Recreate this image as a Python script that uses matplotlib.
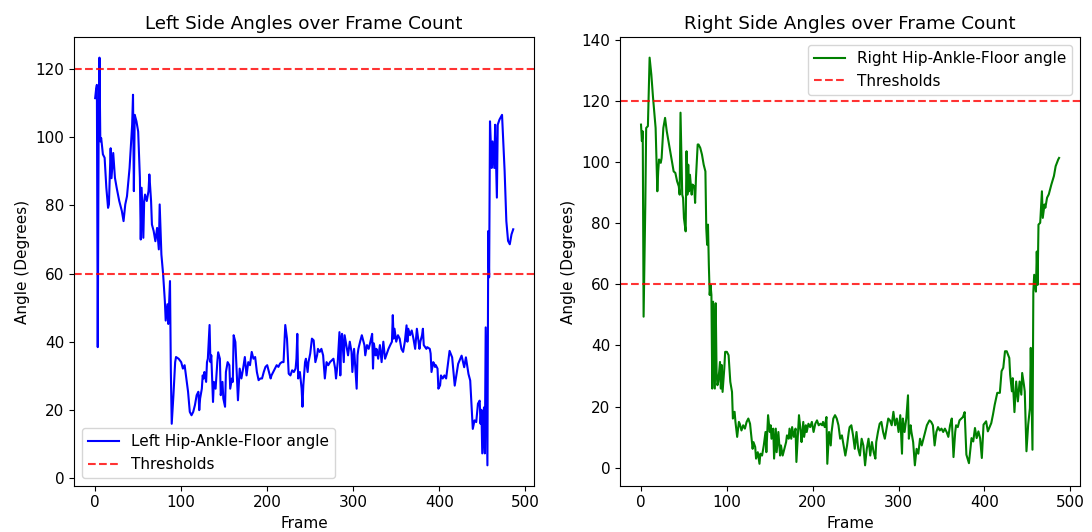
import numpy as np
from matplotlib import pyplot as plt

plt.rcParams['font.size'] = 11

# hip-ankle-floor angle per frame, left side
left_frames = [0, 1, 2, 3, 4, 5, 6, 7, 9, 11, 13, 15, 16, 18, 19, 21, 23, 25, 28, 31,
               33, 35, 37, 40, 43, 44, 45, 46, 48, 50, 52, 53, 54, 56, 57, 58, 60, 62, 63, 65,
               66, 68, 70, 72, 74, 75, 77, 79, 81, 82, 84, 85, 87, 88, 89, 91, 93, 94, 97, 100,
               102, 104, 106, 108, 110, 112, 114, 116, 118, 120, 121, 122, 124, 125, 126, 127, 129, 130, 131, 133,
               134, 135, 137, 138, 140, 142, 143, 145, 146, 148, 149, 151, 152, 154, 156, 157, 159, 160, 161, 163,
               164, 166, 168, 170, 172, 174, 176, 178, 180, 182, 184, 186, 188, 190, 192, 194, 196, 198, 200, 202,
               204, 205, 207, 209, 211, 213, 215, 217, 219, 221, 223, 225, 227, 229, 231, 233, 234, 235, 236, 238,
               240, 241, 242, 244, 245, 247, 248, 250, 252, 254, 256, 258, 259, 261, 263, 265, 267, 269, 271, 273,
               275, 277, 279, 280, 282, 284, 285, 286, 287, 289, 290, 292, 294, 296, 298, 299, 301, 302, 304, 305,
               306, 308, 310, 312, 313, 314, 316, 318, 320, 322, 323, 324, 326, 327, 329, 331, 333, 335, 337, 339,
               341, 343, 345, 346, 347, 348, 350, 352, 354, 356, 358, 360, 362, 363, 364, 366, 368, 370, 372, 374,
               376, 377, 378, 380, 381, 382, 385, 386, 389, 390, 391, 393, 394, 395, 396, 398, 399, 401, 402, 404,
               406, 408, 412, 415, 418, 422, 426, 429, 431, 434, 436, 439, 441, 443, 445, 447, 448, 449, 450, 452,
               453, 454, 456, 457, 458, 459, 461, 462, 464, 465, 467, 468, 470, 473, 476, 478, 480, 482, 484, 486]
left_angles = [111.5, 113.9, 115.4, 38.4, 99.0, 123.4, 98.8, 99.8, 95.0, 94.0, 85.2, 79.3, 80.3, 96.8, 88.0, 95.4, 88.1, 85.2, 81.3, 78.4,
               75.4, 80.3, 82.7, 91.0, 103.7, 112.5, 84.2, 106.6, 104.7, 101.7, 88.1, 70.0, 85.2, 70.5, 81.3, 83.2, 81.3, 84.2, 89.1, 81.3,
               74.4, 72.5, 69.5, 73.4, 67.1, 80.3, 65.6, 59.8, 52.0, 46.2, 51.0, 45.2, 57.8, 31.0, 15.9, 24.3, 34.0, 35.5, 35.0, 34.0,
               32.1, 33.1, 29.2, 25.3, 19.4, 18.4, 19.4, 21.4, 24.3, 25.3, 19.9, 23.3, 26.2, 30.1, 29.2, 31.1, 28.2, 34.0, 35.0, 44.9,
               34.0, 36.0, 22.3, 28.2, 26.2, 34.0, 36.9, 35.0, 24.3, 28.2, 23.3, 20.9, 31.1, 34.0, 33.1, 26.2, 29.2, 28.2, 41.9, 39.9,
               34.0, 22.8, 32.1, 29.2, 32.1, 35.5, 30.1, 34.0, 33.1, 37.0, 35.0, 35.5, 31.1, 28.7, 29.2, 29.2, 31.1, 32.6, 33.1, 31.1,
               29.2, 30.1, 31.1, 32.1, 33.1, 32.6, 33.6, 34.0, 34.0, 44.9, 40.9, 30.6, 30.1, 31.6, 31.1, 32.1, 35.0, 42.3, 29.2, 31.1,
               26.2, 20.9, 27.2, 34.0, 35.0, 31.1, 34.0, 36.5, 40.9, 40.4, 34.0, 36.0, 37.9, 37.0, 37.9, 36.0, 29.2, 34.0, 33.1, 34.0,
               34.5, 35.0, 32.1, 29.2, 34.0, 42.8, 30.1, 40.9, 42.3, 34.0, 41.9, 39.0, 36.0, 40.0, 37.0, 31.1, 37.9, 34.0, 26.2, 36.0,
               37.9, 40.0, 41.9, 40.0, 39.0, 36.0, 39.0, 37.9, 40.0, 42.3, 32.1, 39.5, 36.0, 37.9, 35.0, 39.0, 34.0, 40.0, 35.0, 36.5,
               37.9, 39.0, 40.0, 47.8, 40.9, 43.8, 40.0, 41.9, 40.9, 37.9, 37.0, 40.0, 44.8, 40.0, 43.8, 41.9, 43.3, 40.9, 37.9, 43.8,
               40.0, 37.9, 40.0, 41.9, 43.8, 39.0, 37.9, 38.4, 37.9, 36.5, 31.1, 34.0, 33.6, 32.6, 33.1, 32.1, 26.2, 27.2, 30.1, 29.2,
               30.1, 29.2, 37.3, 35.4, 27.1, 33.5, 35.9, 32.5, 35.4, 30.5, 28.6, 14.4, 16.9, 16.4, 21.8, 22.7, 15.9, 20.0, 7.2, 20.7,
               7.2, 44.2, 3.7, 72.5, 58.9, 104.7, 91.0, 98.8, 91.0, 103.7, 82.3, 103.7, 105.2, 106.6, 90.1, 75.4, 69.6, 68.6, 71.5, 73.0]

# hip-ankle-floor angle per frame, right side
right_frames = [0, 1, 2, 3, 5, 6, 8, 10, 12, 14, 16, 17, 19, 20, 21, 23, 24, 26, 28, 30,
                32, 34, 36, 38, 40, 42, 44, 45, 46, 48, 49, 50, 52, 53, 54, 55, 56, 57, 59, 60,
                62, 63, 64, 66, 67, 69, 71, 73, 75, 76, 77, 78, 79, 80, 81, 82, 83, 84, 86, 87,
                88, 89, 90, 92, 93, 94, 95, 97, 98, 100, 102, 104, 106, 107, 109, 110, 112, 114, 115, 117,
                119, 121, 123, 125, 127, 128, 130, 131, 133, 134, 136, 138, 139, 141, 143, 145, 146, 148, 150, 151,
                152, 154, 155, 157, 158, 160, 162, 163, 165, 167, 169, 170, 172, 173, 175, 176, 178, 180, 181, 183,
                184, 186, 187, 189, 190, 192, 193, 195, 197, 199, 201, 203, 205, 207, 209, 211, 212, 214, 216, 217,
                219, 221, 222, 224, 226, 228, 230, 232, 234, 236, 238, 240, 242, 243, 245, 247, 249, 251, 253, 255,
                257, 259, 261, 263, 265, 267, 269, 271, 273, 274, 276, 278, 280, 282, 284, 286, 288, 290, 292, 294,
                296, 298, 300, 302, 304, 305, 307, 309, 311, 312, 314, 315, 317, 319, 321, 323, 325, 327, 329, 331,
                333, 335, 336, 338, 340, 342, 344, 346, 348, 350, 352, 354, 356, 358, 360, 362, 364, 366, 367, 369,
                371, 375, 377, 379, 382, 385, 387, 389, 391, 393, 395, 397, 399, 402, 404, 408, 410, 412, 415, 418,
                420, 422, 424, 426, 429, 430, 432, 433, 435, 437, 439, 441, 443, 444, 446, 447, 449, 451, 453, 454,
                456, 457, 458, 460, 461, 462, 463, 465, 467, 468, 470, 471, 473, 475, 478, 481, 483, 486, 487]
right_angles = [112.2, 106.8, 110.0, 49.4, 86.0, 111.1, 111.7, 134.1, 128.6, 121.0, 114.4, 111.1, 90.4, 96.9, 100.8, 99.7, 101.3, 111.1, 114.4, 110.0,
                106.8, 103.5, 100.2, 96.9, 96.4, 93.7, 92.0, 89.3, 116.1, 89.3, 88.2, 81.6, 77.3, 103.5, 89.3, 99.1, 90.4, 95.8, 89.3, 92.6,
                92.0, 86.6, 94.8, 105.7, 105.7, 104.6, 102.4, 99.1, 96.9, 78.4, 72.9, 79.5, 66.3, 56.5, 59.8, 56.5, 25.9, 54.3, 25.9, 53.8,
                31.4, 27.0, 28.1, 34.6, 25.9, 33.6, 24.8, 32.5, 37.9, 37.9, 36.8, 28.1, 24.8, 16.1, 18.3, 15.0, 10.1, 15.0, 14.4, 12.2,
                13.9, 12.8, 15.0, 16.1, 14.4, 11.7, 6.2, 8.4, 6.8, 3.0, 5.1, 1.3, 4.6, 4.0, 7.3, 11.7, 5.1, 17.2, 11.7, 13.9,
                9.5, 12.8, 3.0, 12.8, 5.1, 11.7, 4.0, 7.3, 4.0, 6.2, 8.4, 10.6, 9.5, 12.8, 9.5, 13.3, 10.1, 12.8, 1.9, 11.7,
                17.2, 11.7, 8.4, 15.0, 10.1, 13.9, 11.7, 14.4, 13.3, 15.0, 11.7, 14.4, 15.5, 13.9, 14.4, 13.9, 15.0, 13.3, 16.6, 1.3,
                11.7, 7.3, 11.7, 16.1, 17.2, 16.1, 13.9, 9.5, 10.6, 7.3, 4.0, 7.3, 11.7, 13.3, 13.9, 10.6, 6.2, 11.7, 6.2, 4.0,
                9.5, 7.3, 0.8, 6.2, 9.5, 4.0, 8.4, 5.1, 3.0, 8.4, 11.7, 14.4, 15.0, 11.7, 9.5, 12.8, 16.1, 15.5, 13.9, 18.3,
                13.9, 16.1, 11.7, 17.2, 4.6, 16.1, 11.7, 16.1, 23.7, 9.5, 13.9, 11.7, 8.4, 0.8, 6.2, 4.6, 9.5, 7.3, 9.5, 11.7,
                13.9, 15.0, 15.5, 15.0, 13.9, 7.3, 11.7, 13.3, 12.2, 12.8, 11.7, 12.8, 11.7, 10.1, 13.9, 16.1, 3.5, 11.7, 13.9, 13.3,
                15.5, 16.6, 18.2, 4.3, 1.5, 9.7, 8.6, 13.0, 9.7, 11.9, 9.7, 3.2, 14.1, 15.2, 11.9, 14.6, 17.4, 20.6, 24.5, 24.5,
                31.6, 32.7, 38.1, 38.1, 35.9, 30.4, 25.0, 29.3, 18.2, 28.2, 21.7, 28.2, 23.9, 31.0, 27.2, 25.0, 5.4, 14.1, 19.5, 39.2,
                5.9, 57.6, 63.1, 57.6, 70.7, 59.8, 79.5, 80.1, 90.4, 81.7, 86.1, 85.0, 88.3, 89.4, 92.6, 95.4, 98.6, 100.8, 101.3]

thresholds = [60, 120]

fig, (ax1, ax2) = plt.subplots(1, 2, figsize=(10.92, 5.32), dpi=100)
fig.subplots_adjust(left=0.068, right=0.989, top=0.93, bottom=0.087, wspace=0.187)

ax1.plot(left_frames, left_angles, color='b', label='Left Hip-Ankle-Floor angle')
ax1.axhline(thresholds[0], color='r', linestyle='--', alpha=0.8, label='Thresholds')
ax1.axhline(thresholds[1], color='r', linestyle='--', alpha=0.8)
ax1.set_title('Left Side Angles over Frame Count')
ax1.set_xlabel('Frame')
ax1.set_ylabel('Angle (Degrees)')
ax1.legend(loc='lower left')

ax2.plot(right_frames, right_angles, color='g', label='Right Hip-Ankle-Floor angle')
ax2.axhline(thresholds[0], color='r', linestyle='--', alpha=0.8, label='Thresholds')
ax2.axhline(thresholds[1], color='r', linestyle='--', alpha=0.8)
ax2.set_title('Right Side Angles over Frame Count')
ax2.set_xlabel('Frame')
ax2.set_ylabel('Angle (Degrees)')
ax2.legend(loc='upper right')

plt.savefig('out.png')
